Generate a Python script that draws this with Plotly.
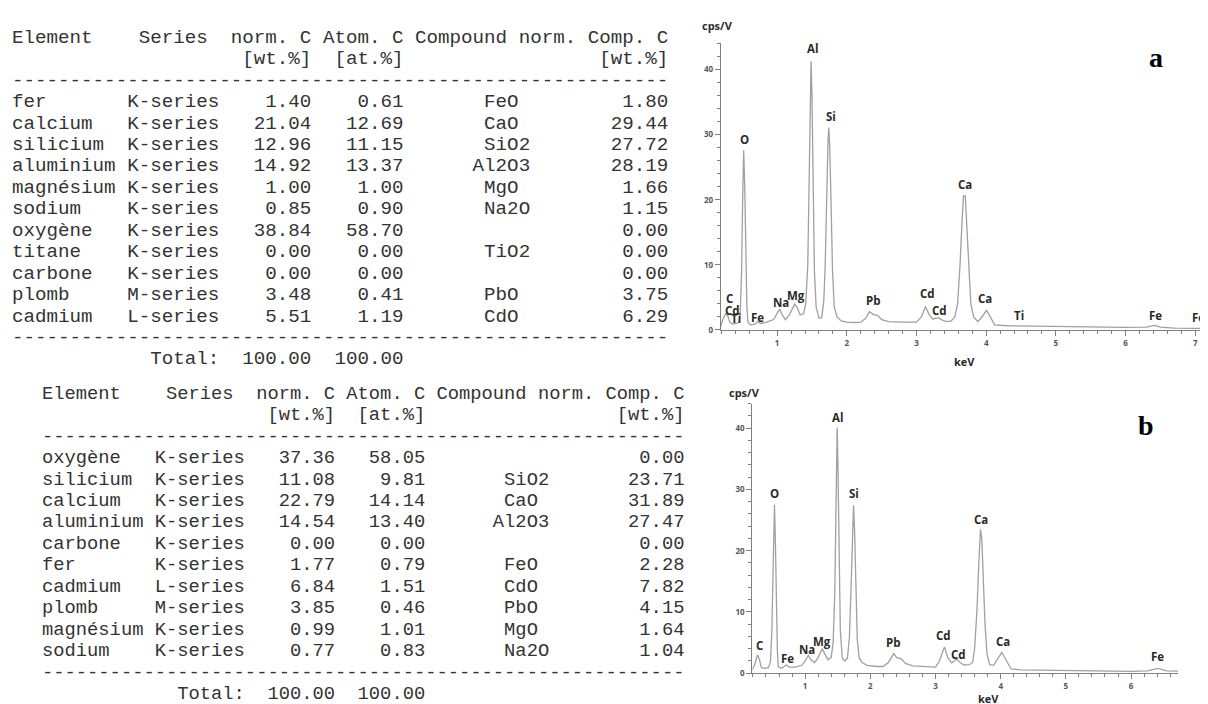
import plotly.graph_objects as go

W, H = 1208, 704

# ---------------- Table data ----------------
cols_header = "Element    Series  norm. C Atom. C Compound norm. Comp. C"
units_line = " " * 20 + "[wt.%]" + "  " + "[at.%]" + " " * 17 + "[wt.%]"

a_elements = ["fer", "calcium", "silicium", "aluminium", "magnésium", "sodium",
              "oxygène", "titane", "carbone", "plomb", "cadmium"]
a_series = ["K-series", "K-series", "K-series", "K-series", "K-series", "K-series",
            "K-series", "K-series", "K-series", "M-series", "L-series"]
a_wt = [1.40, 21.04, 12.96, 14.92, 1.00, 0.85, 38.84, 0.00, 0.00, 3.48, 5.51]
a_at = [0.61, 12.69, 11.15, 13.37, 1.00, 0.90, 58.70, 0.00, 0.00, 0.41, 1.19]
a_comp = ["FeO", "CaO", "SiO2", "Al2O3", "MgO", "Na2O", "", "TiO2", "", "PbO", "CdO"]
a_compwt = [1.80, 29.44, 27.72, 28.19, 1.66, 1.15, 0.00, 0.00, 0.00, 3.75, 6.29]

b_elements = ["oxygène", "silicium", "calcium", "aluminium", "carbone", "fer",
              "cadmium", "plomb", "magnésium", "sodium"]
b_series = ["K-series", "K-series", "K-series", "K-series", "K-series", "K-series",
            "L-series", "M-series", "K-series", "K-series"]
b_wt = [37.36, 11.08, 22.79, 14.54, 0.00, 1.77, 6.84, 3.85, 0.99, 0.77]
b_at = [58.05, 9.81, 14.14, 13.40, 0.00, 0.79, 1.51, 0.46, 1.01, 0.83]
b_comp = ["", "SiO2", "CaO", "Al2O3", "", "FeO", "CdO", "PbO", "MgO", "Na2O"]
b_compwt = [0.00, 23.71, 31.89, 27.47, 0.00, 2.28, 7.82, 4.15, 1.64, 1.04]

total_wt, total_at = 100.00, 100.00

# ---------------- Spectrum data (keV, cps/V) ----------------
energy_a = [0.19, 0.22, 0.26, 0.29, 0.32, 0.36, 0.42, 0.455, 0.47, 0.49, 0.505, 0.52, 0.535,
            0.55, 0.565, 0.58, 0.62, 0.68, 0.72, 0.76, 0.85, 0.95, 1.0, 1.035, 1.07, 1.12,
            1.18, 1.25, 1.29, 1.33, 1.38, 1.41, 1.44, 1.46, 1.475, 1.487, 1.50, 1.515, 1.535,
            1.56, 1.60, 1.64, 1.67, 1.69, 1.71, 1.73, 1.742, 1.755, 1.775, 1.795, 1.82, 1.86,
            1.92, 2.0, 2.1, 2.2, 2.27, 2.325, 2.38, 2.445, 2.5, 2.6, 2.8, 3.0, 3.07, 3.128,
            3.18, 3.23, 3.27, 3.315, 3.37, 3.43, 3.50, 3.55, 3.59, 3.625, 3.655, 3.675, 3.70,
            3.725, 3.75, 3.78, 3.82, 3.88, 3.94, 4.004, 4.05, 4.12, 4.3, 4.6, 5.0, 5.5, 6.0,
            6.3, 6.414, 6.5, 6.7, 7.0, 7.28]
counts_a = [0.5, 1.6, 2.5, 2.2, 1.2, 0.9, 1.0, 1.3, 2.5, 9.0, 20.0, 27.6, 22.0,
            11.0, 4.0, 1.2, 0.8, 0.9, 1.3, 1.0, 1.2, 1.6, 2.5, 3.2, 2.4, 1.6,
            2.4, 4.0, 3.4, 2.3, 2.5, 4.0, 10.0, 22.0, 36.0, 41.3, 36.0, 22.0, 9.0,
            3.5, 1.8, 1.9, 4.5, 10.0, 21.0, 29.0, 31.1, 28.0, 19.0, 9.0, 3.5, 2.0,
            1.4, 1.2, 1.15, 1.2, 1.8, 2.8, 2.4, 2.2, 1.6, 1.3, 1.2, 1.2, 2.0, 3.6,
            2.4, 1.7, 1.8, 1.9, 1.5, 1.3, 1.4, 2.0, 4.0, 10.0, 17.0, 20.6, 20.6,
            16.0, 9.5, 4.0, 2.0, 1.3, 2.0, 3.0, 2.2, 0.8, 0.65, 0.6, 0.5, 0.45, 0.4,
            0.45, 0.7, 0.45, 0.3, 0.25, 0.2]

energy_b = [0.19, 0.23, 0.27, 0.30, 0.33, 0.38, 0.44, 0.47, 0.49, 0.51, 0.53, 0.545, 0.56,
            0.575, 0.59, 0.64, 0.71, 0.76, 0.85, 0.95, 1.0, 1.05, 1.09, 1.145, 1.20, 1.262,
            1.30, 1.35, 1.40, 1.43, 1.455, 1.475, 1.492, 1.505, 1.52, 1.54, 1.57, 1.61, 1.65,
            1.68, 1.705, 1.725, 1.743, 1.76, 1.78, 1.80, 1.83, 1.87, 1.95, 2.01, 2.1, 2.2,
            2.28, 2.36, 2.41, 2.47, 2.54, 2.65, 2.8, 3.0, 3.06, 3.138, 3.19, 3.25, 3.29,
            3.33, 3.38, 3.44, 3.52, 3.57, 3.60, 3.635, 3.665, 3.69, 3.71, 3.735, 3.76, 3.79,
            3.83, 3.89, 3.95, 4.017, 4.07, 4.16, 4.3, 4.6, 5.0, 5.5, 6.0, 6.25, 6.41, 6.55,
            6.72]
counts_b = [0.6, 1.5, 3.0, 2.2, 0.9, 0.8, 0.9, 2.0, 7.0, 18.0, 27.5, 21.0, 10.0,
            3.5, 1.0, 0.8, 1.35, 1.0, 1.0, 1.3, 2.0, 2.9, 2.2, 1.7, 2.6, 4.0,
            3.2, 2.2, 2.6, 5.0, 13.0, 30.0, 40.1, 33.0, 18.0, 7.0, 2.5, 2.0, 2.5,
            6.0, 14.0, 24.0, 27.4, 23.0, 13.0, 5.5, 2.5, 1.8, 1.3, 1.2, 1.1, 1.1,
            1.8, 3.2, 2.5, 2.4, 1.6, 1.2, 1.1, 1.0, 2.0, 4.3, 2.5, 1.7, 2.0,
            2.3, 1.7, 1.35, 1.4, 1.8, 4.0, 10.0, 18.0, 23.5, 22.0, 15.0, 8.0, 3.2,
            1.4, 1.3, 2.4, 3.4, 2.4, 0.7, 0.55, 0.5, 0.4, 0.35, 0.3, 0.4, 0.8, 0.4,
            0.35]

# peak labels: (text, keV, cps/V)
labels_a = [("Al", 1.512, 43.3), ("Si", 1.771, 32.8), ("O", 0.532, 29.3), ("Ca", 3.693, 22.4),
            ("C", 0.321, 4.77), ("Cd", 0.357, 2.94), ("Ti", 0.407, 1.72), ("Fe", 0.723, 1.88),
            ("Na", 1.053, 4.16), ("Mg", 1.268, 5.23), ("Pb", 2.387, 4.47), ("Cd", 3.162, 5.53),
            ("Cd", 3.334, 2.94), ("Ca", 3.98, 4.77), ("Ti", 4.468, 2.18), ("Fe", 6.43, 2.18),
            ("Fe", 7.05, 1.88)]
labels_b = [("Al", 1.498, 41.8), ("O", 0.535, 29.3), ("Si", 1.746, 29.3), ("Ca", 3.694, 25.1),
            ("C", 0.305, 4.5), ("Fe", 0.735, 2.4), ("Na", 1.026, 3.9), ("Mg", 1.256, 5.2),
            ("Pb", 2.36, 5.0), ("Cd", 3.126, 6.2), ("Cd", 3.356, 3.1), ("Ca", 4.032, 5.2),
            ("Fe", 6.41, 2.75)]


def px(x):
    return x / W


def py(y):
    return 1 - y / H


def row_text(el, ser, wt, at, comp, cw):
    return f"{el:<10}{ser:<8}{wt:>8.2f}{at:>8.2f}    {comp:^10}{cw:>9.2f}"


def table_lines(elements, series, wt, at, comp, compwt):
    lines = [cols_header, units_line, "-" * 57]
    for i in range(len(elements)):
        lines.append(row_text(elements[i], series[i], wt[i], at[i], comp[i], compwt[i]))
    lines.append("-" * 57)
    lines.append(" " * 12 + f"Total:  {total_wt:6.2f}  {total_at:6.2f}")
    return lines


fig = go.Figure()

fig.add_trace(go.Scatter(x=energy_a, y=counts_a, mode="lines", xaxis="x", yaxis="y",
                         line=dict(color="#a0a0a0", width=1.3), showlegend=False,
                         hoverinfo="skip"))
fig.add_trace(go.Scatter(x=energy_b, y=counts_b, mode="lines", xaxis="x2", yaxis="y2",
                         line=dict(color="#a0a0a0", width=1.3), showlegend=False,
                         hoverinfo="skip"))

axis_common = dict(showline=True, linecolor="#808080", linewidth=1, showgrid=False,
                   zeroline=False, ticks="outside", ticklen=5, tickcolor="#808080",
                   tickfont=dict(family="Open Sans", size=8, color="#555555", weight="bold"))

fig.update_layout(
    width=W, height=H, margin=dict(l=0, r=0, t=0, b=0),
    paper_bgcolor="white", plot_bgcolor="white",
    xaxis=dict(domain=[px(712.7), px(1206.7)], range=[0.19, 7.28], anchor="y",
               tick0=0, dtick=1,
               minor=dict(dtick=0.2, ticks="outside", ticklen=3, tickcolor="#808080"),
               **axis_common),
    yaxis=dict(domain=[py(324.3), py(35.7)], range=[0, 44], anchor="x",
               tick0=0, dtick=10,
               minor=dict(dtick=2, ticks="outside", ticklen=3, tickcolor="#808080"),
               **axis_common),
    xaxis2=dict(domain=[px(744.3), px(1170)], range=[0.19, 6.72], anchor="y2",
                tick0=0, dtick=1,
                minor=dict(dtick=0.2, ticks="outside", ticklen=3, tickcolor="#808080"),
                **axis_common),
    yaxis2=dict(domain=[py(670), py(398.5)], range=[0, 44], anchor="x2",
                tick0=0, dtick=10,
                minor=dict(dtick=2, ticks="outside", ticklen=3, tickcolor="#808080"),
                **axis_common),
)

annotations = []

# tables
tables = [
    (table_lines(a_elements, a_series, a_wt, a_at, a_comp, a_compwt), 2, 30, 19.2),
    (table_lines(b_elements, b_series, b_wt, b_at, b_comp, b_compwt), 32, 388.5, 18.8),
]
for lines, x0, y0, fs in tables:
    mono = dict(family="Liberation Mono", size=fs, color="#333333")
    for i, ln in enumerate(lines):
        annotations.append(dict(text=ln.replace(" ", "\u00a0"), xref="paper", yref="paper",
                                x=px(x0), y=py(y0 + i * 21.6), xanchor="left", yanchor="middle",
                                showarrow=False, font=mono))

lab_font = dict(family="Open Sans", size=11.5, color="#2a2a2a", weight="bold")
for t, xk, yv in labels_a:
    annotations.append(dict(text=t, x=xk, y=yv, xref="x", yref="y", showarrow=False,
                            xanchor="center", yanchor="middle", font=lab_font))
for t, xk, yv in labels_b:
    annotations.append(dict(text=t, x=xk, y=yv, xref="x2", yref="y2", showarrow=False,
                            xanchor="center", yanchor="middle", font=lab_font))

title_font = dict(family="Open Sans", size=11, color="#2a2a2a", weight="bold")
paper_labels = [
    ("cps/V", 709, 18, title_font),
    ("keV", 956, 356, title_font),
    ("cps/V", 736, 387, title_font),
    ("keV", 980, 695, title_font),
    ("a", 1148, 50, dict(family="Liberation Serif", size=28, color="black", weight="bold")),
    ("b", 1138, 420, dict(family="Liberation Serif", size=28, color="black", weight="bold")),
]
for t, xp, yp, f in paper_labels:
    annotations.append(dict(text=t, x=px(xp), y=py(yp), xref="paper", yref="paper",
                            showarrow=False, xanchor="center", yanchor="middle", font=f))

fig.update_layout(annotations=annotations)
fig.write_html("out.html")
